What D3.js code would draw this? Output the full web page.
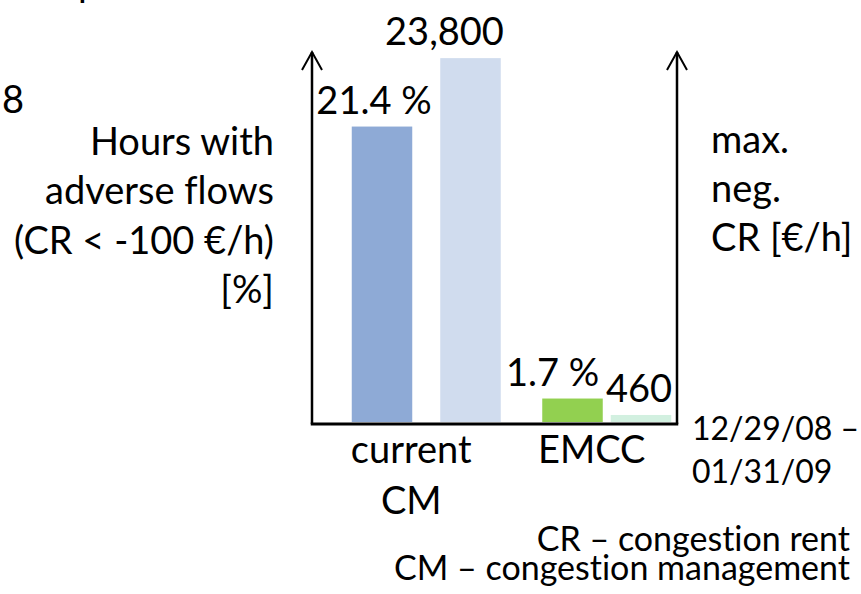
<!DOCTYPE html>
<html>
<head>
<meta charset="utf-8">
<script src="https://cdn.jsdelivr.net/npm/d3@7"></script>
<style>
  html, body { margin: 0; padding: 0; background: #fff; }
  svg { display: block; font-family: Lato, "Open Sans", sans-serif; font-variant-ligatures: none; }
</style>
</head>
<body>
<svg id="chart" width="861" height="594"></svg>
<script>
// data
const categories = ["current CM", "EMCC"];
const categoryLines = [["current", "CM"], ["EMCC"]];
const series = ["pct", "cr"];
const pctValues = [21.4, 1.7];      // hours with adverse flows [%]
const crValues = [23800, 460];      // max. neg. CR [€/h]
const pctLabels = ["21.4 %", "1.7 %"];
const crLabels = ["23,800", "460"];
const leftTitle = ["Hours with", "adverse flows", "(CR < -100 €/h)", "[%]"];
const rightTitle = ["max.", "neg.", "CR [€/h]"];
const period = ["12/29/08 –", "01/31/09"];
const footnotes = ["CR – congestion rent", "CM – congestion management"];

const colors = {
  "current CM": { pct: "#8eaad6", cr: "#d0dcee" },
  "EMCC": { pct: "#92d050", cr: "#d2f0e0" }
};

const svg = d3.select("#chart");

// layout
const axisLeftX = 312, axisRightX = 677;
const baseY = 424, topY = 52;
const barBottom = 422;
const barW = 60.5;
const groupGap = { "current CM": 28, "EMCC": 8 };
const labelDx = { "current CM": { pct: -8, cr: -26 }, "EMCC": { pct: -20, cr: -2 } };
const bigFont = 38, periodFont = 32, footFont = 34;

// scales: one for each axis, no ticks in the original
const yPct = d3.scaleLinear().domain([0, 26.8]).range([barBottom, topY]);
const yCr = d3.scaleLinear().domain([0, 24200]).range([barBottom, topY]);
const x0 = d3.scaleBand().domain(categories).range([336, 697]);

const bars = [];
categories.forEach((c, i) => {
  const mid = x0(c) + x0.bandwidth() / 2;
  const gap = groupGap[c];
  const x1 = d3.scaleBand().domain(series)
    .range([mid - barW - gap / 2, mid + barW + gap / 2])
    .paddingInner(gap / (barW + gap));
  bars.push({ cat: c, key: "pct", value: pctValues[i], label: pctLabels[i], x: x1("pct"), w: x1.bandwidth(), y: yPct });
  bars.push({ cat: c, key: "cr", value: crValues[i], label: crLabels[i], x: x1("cr"), w: x1.bandwidth(), y: yCr });
});

// bars
svg.append("g").selectAll("rect")
  .data(bars)
  .join("rect")
  .attr("x", d => d.x)
  .attr("y", d => d.y(d.value))
  .attr("width", d => d.w)
  .attr("height", d => d.y(0) - d.y(d.value))
  .attr("fill", d => colors[d.cat][d.key]);

// value labels
svg.append("g").selectAll("text")
  .data(bars)
  .join("text")
  .attr("x", d => d.x + d.w / 2 + labelDx[d.cat][d.key])
  .attr("y", d => d.y(d.value) - 13)
  .attr("text-anchor", "middle")
  .style("font-size", bigFont + "px")
  .text(d => d.label);

// axes (plain arrows, no ticks)
const axes = svg.append("g").attr("stroke", "#000").attr("fill", "none");
[axisLeftX, axisRightX].forEach(ax => {
  axes.append("line")
    .attr("x1", ax).attr("x2", ax)
    .attr("y1", baseY).attr("y2", topY)
    .attr("stroke-width", 2.5);
  axes.append("path")
    .attr("d", `M${ax - 10},${topY + 18}L${ax},${topY}L${ax + 10},${topY + 18}`)
    .attr("stroke-width", 2);
});
axes.append("line")
  .attr("x1", axisLeftX - 1.25).attr("x2", axisRightX + 1.25)
  .attr("y1", baseY).attr("y2", baseY)
  .attr("stroke-width", 3);

// category labels
const catG = svg.append("g")
  .attr("text-anchor", "middle")
  .style("font-size", bigFont + "px");
categories.forEach((c, i) => {
  catG.append("text")
    .attr("x", x0(c) + x0.bandwidth() / 2 - 15)
    .attr("y", 463)
    .selectAll("tspan")
    .data(categoryLines[i])
    .join("tspan")
    .attr("x", x0(c) + x0.bandwidth() / 2 - 15)
    .attr("dy", (d, j) => j === 0 ? 0 : 51)
    .text(d => d);
});

// left axis title
svg.append("text")
  .attr("text-anchor", "end")
  .style("font-size", bigFont + "px")
  .selectAll("tspan")
  .data(leftTitle)
  .join("tspan")
  .attr("x", 274)
  .attr("y", (d, i) => 155 + i * 49.3)
  .text(d => d);

// right axis title
svg.append("text")
  .style("font-size", bigFont + "px")
  .selectAll("tspan")
  .data(rightTitle)
  .join("tspan")
  .attr("x", 711)
  .attr("y", (d, i) => 153 + i * 49)
  .text(d => d);

// period
svg.append("text")
  .style("font-size", periodFont + "px")
  .selectAll("tspan")
  .data(period)
  .join("tspan")
  .attr("x", 692)
  .attr("y", (d, i) => 440 + i * 42.5)
  .text(d => d);

// footnotes
svg.append("text")
  .attr("text-anchor", "end")
  .style("font-size", footFont + "px")
  .selectAll("tspan")
  .data(footnotes)
  .join("tspan")
  .attr("x", 850)
  .attr("y", (d, i) => 551 + i * 28.5)
  .text(d => d);

// cut-off fragments at the top left of the slide
svg.append("text").attr("x", 2).attr("y", 113).style("font-size", bigFont + "px").text("8");
svg.append("text").attr("x", 78).attr("y", -4).style("font-size", bigFont + "px").text("p");
</script>
</body>
</html>
